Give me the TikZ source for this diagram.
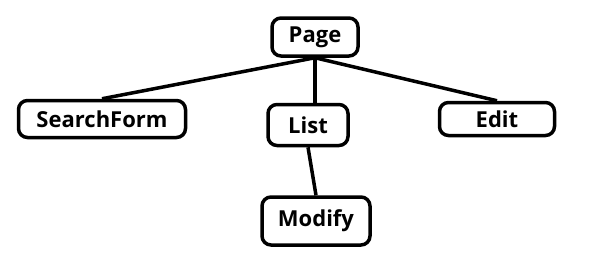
\documentclass[tikz,border=0pt]{standalone}
\usepackage{fontspec}
\setmainfont{Open Sans}
\begin{document}
\begin{tikzpicture}[x=1pt,y=-1pt,
  box/.style={draw,line width=3.5pt,rounded corners=9pt,inner sep=0pt,font=\bfseries\fontsize{22}{26}\selectfont},
  link/.style={line width=3.5pt}]
\useasboundingbox (0,0) rectangle (598,258);
\node[box,minimum width=86pt,minimum height=38pt] (page) at (315,37) {Page};
\node[box,minimum width=167pt,minimum height=37pt] (search) at (102,119) {SearchForm};
\node[box,minimum width=80pt,minimum height=41pt] (list) at (308,125) {List};
\node[box,minimum width=115pt,minimum height=33pt] (edit) at (497,119) {Edit};
\node[box,minimum width=108pt,minimum height=48pt] (modify) at (316,221) {Modify};
\draw[link] (page.south) -- (search.north);
\draw[link] (page.south) -- (edit.north);
\draw[link] (page.south) -- (list.north -| page.south);
\draw[link] (list.south) -- (modify.north);
\end{tikzpicture}
\end{document}
